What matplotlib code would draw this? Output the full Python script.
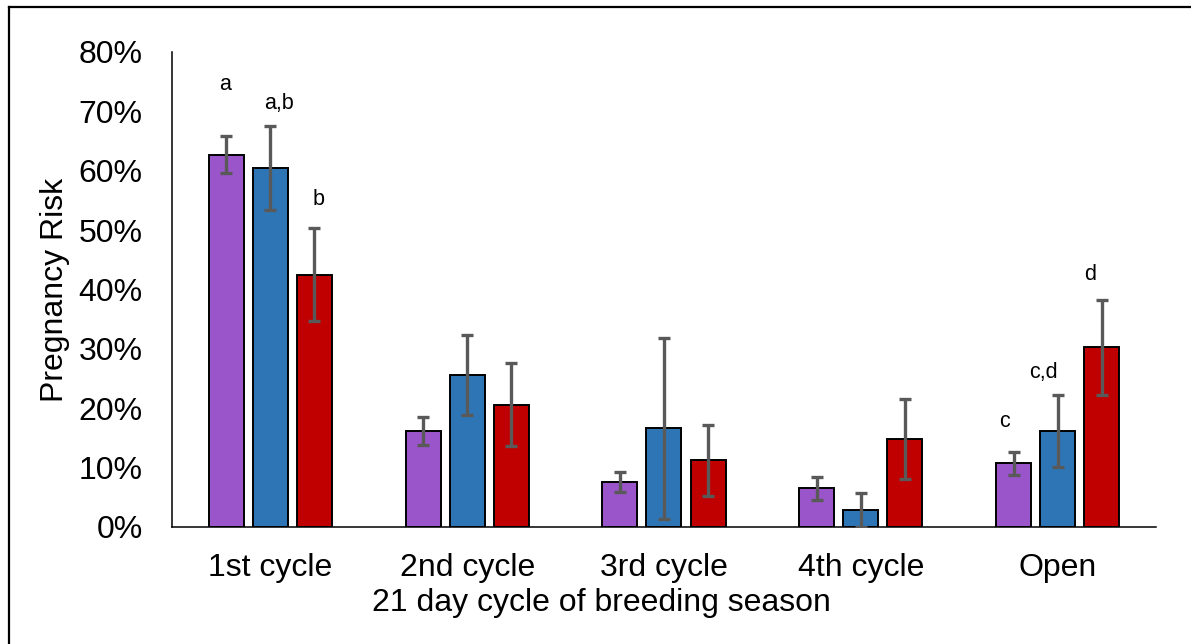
import matplotlib.pyplot as plt
from matplotlib.lines import Line2D
import numpy as np

plt.rcParams['font.family'] = ['Liberation Sans', 'DejaVu Sans']

# datos (riesgo de preñez en %)
ciclos = ['1st cycle', '2nd cycle', '3rd cycle', '4th cycle', 'Open']
grupo_morado = [62.7, 16.2, 7.6, 6.5, 10.7]
grupo_azul = [60.5, 25.6, 16.6, 2.9, 16.2]
grupo_rojo = [42.5, 20.6, 11.2, 14.8, 30.3]
err_morado = [3.1, 2.4, 1.7, 2.0, 2.0]
err_azul = [7.1, 6.7, 15.2, 2.9, 6.1]
err_rojo = [7.8, 7.0, 6.0, 6.8, 8.0]

# letras de significancia: (ciclo, serie, texto, altura)
letras = [
    (0, 0, 'a', 74.6),
    (0, 1, 'a,b', 71.4),
    (0, 2, 'b', 55.2),
    (4, 0, 'c', 17.8),
    (4, 1, 'c,d', 26.1),
    (4, 2, 'd', 42.6),
]

colores = ['#9A55CB', '#2E75B6', '#C00000']
series = [grupo_morado, grupo_azul, grupo_rojo]
errores = [err_morado, err_azul, err_rojo]

fig = plt.figure(figsize=(11.91, 6.44), dpi=100)
ax = fig.add_axes([0.1444, 0.1817, 0.8262, 0.7376])

x = np.arange(len(ciclos))
ancho = 0.178
paso = 0.224

for k in range(3):
    ax.bar(x + (k - 1) * paso, series[k], ancho, color=colores[k],
           edgecolor='black', linewidth=1.4, zorder=2)
    ax.errorbar(x + (k - 1) * paso, series[k], yerr=errores[k], fmt='none',
                ecolor='#595959', elinewidth=2.4, capsize=4, capthick=2.4, zorder=3)

# desplazamientos horizontales de las letras respecto a cada barra
desp = {(0, 0): -0.005, (0, 1): 0.044, (0, 2): 0.021,
        (4, 0): -0.044, (4, 1): -0.074, (4, 2): -0.06}
for i, k, txt, h in letras:
    ax.text(x[i] + (k - 1) * paso + desp[(i, k)], h, txt, ha='center', va='center',
            fontsize=15.5)

ax.set_xlim(-0.5, 4.5)
ax.set_ylim(0, 80)
ax.set_yticks(np.arange(0, 81, 10))
ax.set_yticklabels(['{}%'.format(v) for v in range(0, 81, 10)])
ax.set_xticks(x)
ax.set_xticklabels(ciclos)
ax.tick_params(axis='both', length=0, labelsize=23)
ax.tick_params(axis='y', pad=21)
ax.tick_params(axis='x', pad=19)

for lado in ['top', 'right']:
    ax.spines[lado].set_visible(False)
for lado in ['left', 'bottom']:
    ax.spines[lado].set_linewidth(1.1)
    ax.spines[lado].set_color('black')

ax.set_ylabel('Pregnancy Risk', fontsize=23, labelpad=6)
ax.set_xlabel('21 day cycle of breeding season', fontsize=23)
ax.xaxis.set_label_coords(0.436, -0.128)

# marco recortado (solo arriba e izquierda)
fig.add_artist(Line2D([9 / 1191, 1], [1 - 7 / 644, 1 - 7 / 644], color='black', lw=1.6))
fig.add_artist(Line2D([9 / 1191, 9 / 1191], [0, 1 - 7 / 644], color='black', lw=1.6))

fig.savefig('out.png', dpi=100)
